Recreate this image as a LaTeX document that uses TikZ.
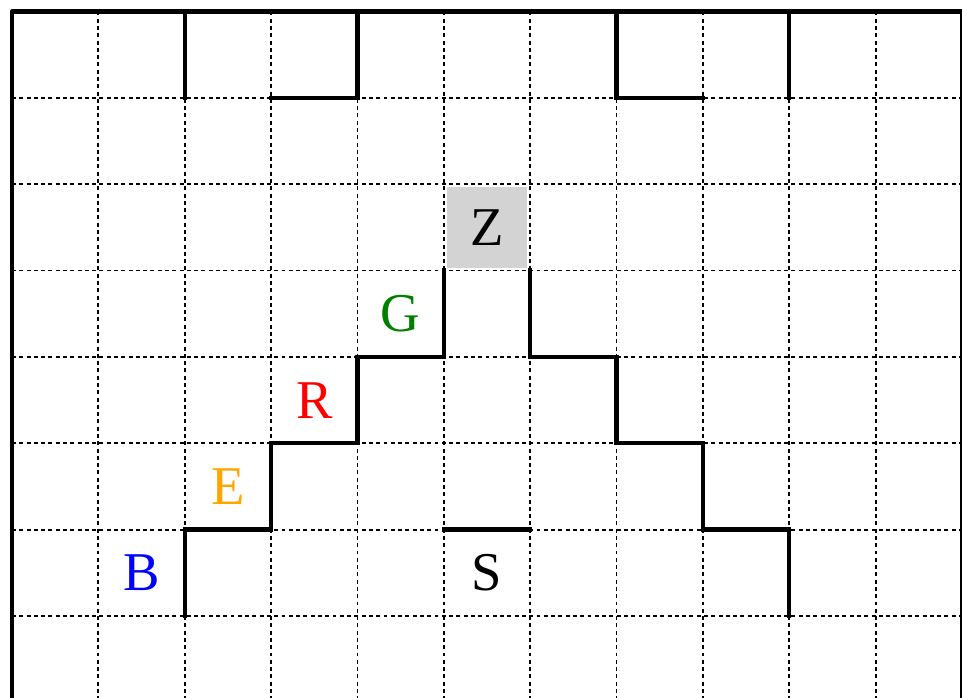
\documentclass[tikz,border=0pt]{standalone}
\usepackage{fontspec}
\setmainfont{Liberation Serif}
\definecolor{zgray}{RGB}{211,211,211}
\definecolor{eorange}{RGB}{255,165,0}
\definecolor{ggreen}{RGB}{0,128,0}
\tikzset{
  gridline/.style={line width=0.6pt, dash pattern=on 1.3pt off 1.1pt},
  wall/.style={line width=1.45pt, line join=miter, line cap=rect},
  frame/.style={line width=1.45pt, line join=round},
  letter/.style={font=\fontsize{18}{20}\selectfont, inner sep=0pt},
}
\begin{document}
\begin{tikzpicture}[x=1cm,y=1cm]
\useasboundingbox (-0.139,0.133) rectangle (11,-7.938);
\clip (-0.139,0.133) rectangle (11,-7.938);
% grid
\foreach \i in {1,...,10} \draw[gridline] (\i,0) -- (\i,-8);
\foreach \j in {1,...,7} \draw[gridline] (0,-\j) -- (11,-\j);
% letters
\node[letter, fill=zgray, minimum width=0.93cm, minimum height=0.93cm] (Z) at (5.5,-2.5) {Z};
\node[letter, text=blue] (B) at (1.5,-6.5) {B};
\node[letter, text=eorange] (E) at (2.5,-5.5) {E};
\node[letter, text=red] (R) at (3.5,-4.5) {R};
\node[letter, text=ggreen] (G) at (4.5,-3.5) {G};
\node[letter] (S) at (5.5,-6.5) {S};
% frame
\draw[frame] (0,-8.2) -- (0,0) -- (11,0) -- (11,-8.2);
% top walls
\draw[wall] (2,0) -- (2,-1);
\draw[wall] (3,-1) -- (4,-1) -- (4,0);
\draw[wall] (7,0) -- (7,-1) -- (8,-1);
\draw[wall] (9,0) -- (9,-1);
% staircase
\draw[wall] (2,-7) -- (2,-6) -- (3,-6) -- (3,-5) -- (4,-5) -- (4,-4) -- (5,-4) -- (5,-3);
\draw[wall] (6,-3) -- (6,-4) -- (7,-4) -- (7,-5) -- (8,-5) -- (8,-6) -- (9,-6) -- (9,-7);
\draw[wall] (5,-6) -- (6,-6);
\end{tikzpicture}
\end{document}
